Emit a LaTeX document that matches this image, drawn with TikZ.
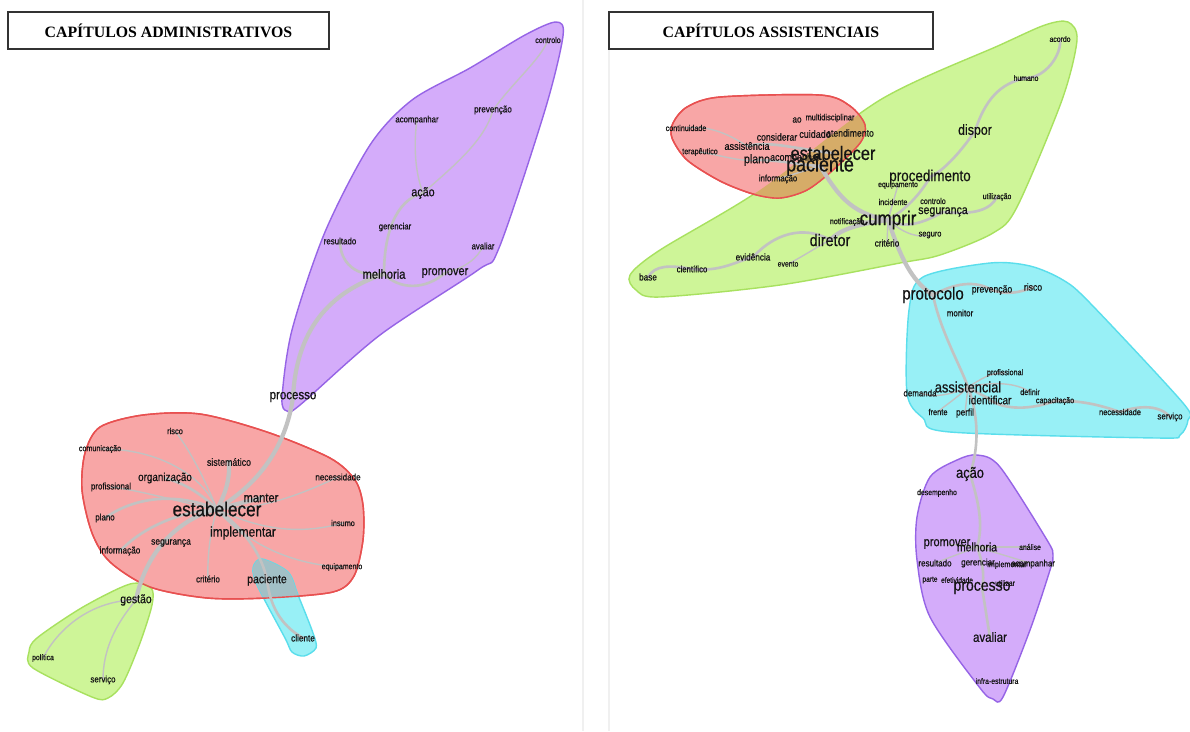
\documentclass[tikz,border=0pt]{standalone}
\usepackage{fontspec}
\setmainfont{Liberation Serif}
\newfontfamily\wf{Liberation Sans}[FakeStretch=0.85, FakeBold=0.6]

\definecolor{purpF}{RGB}{212,172,250}
\definecolor{purpD}{RGB}{150,100,230}
\definecolor{redF}{RGB}{248,166,166}
\definecolor{redD}{RGB}{232,80,80}
\definecolor{grnF}{RGB}{206,245,152}
\definecolor{grnD}{RGB}{168,225,95}
\definecolor{cyaF}{RGB}{152,240,246}
\definecolor{cyaD}{RGB}{90,222,236}
\definecolor{mixRG}{RGB}{214,172,104}
\definecolor{mixRC}{RGB}{162,192,198}
\definecolor{linkgray}{RGB}{194,194,194}

\pgfdeclarelayer{hulls}
\pgfdeclarelayer{links}
\pgfsetlayers{hulls,links,main}

\tikzset{
  wd/.style={inner sep=0pt, text=black!92, font=\wf\fontsize{#1pt}{#1pt}\selectfont},
  lk/.style={draw=linkgray, line width=2.4pt, line cap=round},
  lkm/.style={draw=linkgray, line width=1.5pt, line cap=round},
  lkt/.style={draw=linkgray, line width=0.8pt, line cap=round},
  hullborder/.style={line width=0.8pt},
  titlebox/.style={draw=black!80, line width=1.2pt, inner sep=0pt,
    minimum height=0.74cm, font=\bfseries\fontsize{9}{9}\selectfont}
}

\begin{document}
\begin{tikzpicture}[x=0.02cm, y=-0.02cm]
\useasboundingbox (0,0) rectangle (1190,731);

% ---------- titles ----------
\node[titlebox, minimum width=6.42cm] (tAdm) at (168.5,30.5) {CAPÍTULOS ADMINISTRATIVOS};
\node[titlebox, minimum width=6.48cm] (tAss) at (771,30.5) {CAPÍTULOS ASSISTENCIAIS};

% ---------- administrative chapters: words ----------
% purple cluster
\node[wd=4.8] (lCont)  at (548,40)  {controlo};
\node[wd=5.4] (lPrev)  at (493,110) {prevenção};
\node[wd=5.2] (lAcomp) at (417,120) {acompanhar};
\node[wd=7.2] (lAcao)  at (423,193) {ação};
\node[wd=5.2] (lGer)   at (395,227) {gerenciar};
\node[wd=5.3] (lRes)   at (340,241) {resultado};
\node[wd=5.2] (lAval)  at (483,246) {avaliar};
\node[wd=7.5] (lMel)   at (384,274) {melhoria};
\node[wd=7.4] (lProm)  at (445,273) {promover};
\node[wd=7.7] (lProc)  at (293,397) {processo};
% red cluster
\node[wd=5.0] (lRisco) at (175,431) {risco};
\node[wd=4.8] (lCom)   at (100,449) {comunicação};
\node[wd=5.9] (lSist)  at (229,462) {sistemático};
\node[wd=6.6] (lOrg)   at (165,478) {organização};
\node[wd=5.3] (lProf)  at (111,487) {profissional};
\node[wd=5.4] (lNec)   at (338,477) {necessidade};
\node[wd=7.5] (lMant)  at (261,498) {manter};
\node[wd=11.5] (lEst)  at (217,509) {estabelecer};
\node[wd=5.3] (lPlano) at (105,518) {plano};
\node[wd=4.9] (lIns)   at (343,523) {insumo};
\node[wd=8.0] (lImpl)  at (243,533) {implementar};
\node[wd=5.7] (lSeg)   at (171,543) {segurança};
\node[wd=5.5] (lInfo)  at (120,551) {informação};
\node[wd=4.7] (lEquip) at (342,567) {equipamento};
\node[wd=5.3] (lCrit)  at (208,579) {critério};
\node[wd=7.0] (lPac)   at (267,580) {paciente};
\node[wd=5.5] (lCli)   at (303,638) {cliente};
% green cluster
\node[wd=7.0] (lGest)  at (136,600) {gestão};
\node[wd=4.6] (lPol)   at (43,658)  {política};
\node[wd=5.3] (lServ)  at (103,680) {serviço};

% ---------- care chapters: words ----------
% red cluster
\node[wd=4.8] (rCont)  at (686,128) {continuidade};
\node[wd=4.8] (rTer)   at (700,152) {terapêutico};
\node[wd=6.1] (rAssist) at (747,146) {assistência};
\node[wd=5.5] (rAo)    at (797,120) {ao};
\node[wd=5.0] (rMulti) at (830,118) {multidisciplinar};
\node[wd=5.8] (rCons)  at (777,137) {considerar};
\node[wd=6.0] (rCuid)  at (815,134) {cuidado};
\node[wd=5.8] (rAtend) at (850,133) {atendimento};
\node[wd=6.0] (rAcomp) at (795,158) {acompanhar};
\node[wd=7.1] (rPlano) at (757,160) {plano};
\node[wd=11.0] (rEst)  at (833,153) {estabelecer};
\node[wd=12.0] (rPac)  at (820,166) {paciente};
\node[wd=5.2] (rInfo)  at (778,179) {informação};
% green cluster
\node[wd=9.0] (rProced) at (930,177) {procedimento};
\node[wd=4.6] (rEquip) at (898,185) {equipamento};
\node[wd=4.8] (rInc)   at (893,202) {incidente};
\node[wd=4.8] (rContr) at (933,201) {controlo};
\node[wd=7.1] (rSeg)   at (943,212) {segurança};
\node[wd=4.6] (rUtil)  at (997,197) {utilização};
\node[wd=8.3] (rDisp)  at (975,131) {dispor};
\node[wd=4.6] (rHum)   at (1026,78) {humano};
\node[wd=4.6] (rAcordo) at (1060,39) {acordo};
\node[wd=4.8] (rNotif) at (847,222) {notificação};
\node[wd=11.4] (rCump) at (888,220) {cumprir};
\node[wd=9.6] (rDir)   at (830,240) {diretor};
\node[wd=5.5] (rCrit)  at (887,243) {critério};
\node[wd=5.0] (rSeguro) at (930,235) {seguro};
\node[wd=5.5] (rEvid)  at (753,257) {evidência};
\node[wd=4.6] (rEvento) at (788,264) {evento};
\node[wd=5.2] (rCient) at (692,269) {científico};
\node[wd=5.5] (rBase)  at (648,277) {base};
% cyan cluster
\node[wd=10.0] (rProt) at (933,295) {protocolo};
\node[wd=5.8] (rPrev)  at (992,290) {prevenção};
\node[wd=5.8] (rRisco) at (1033,287) {risco};
\node[wd=5.3] (rMon)   at (960,313) {monitor};
\node[wd=4.8] (rProf)  at (1005,373) {profissional};
\node[wd=5.3] (rDem)   at (920,393) {demanda};
\node[wd=8.6] (rAssistl) at (968,387) {assistencial};
\node[wd=6.7] (rIdent) at (990,400) {identificar};
\node[wd=4.8] (rDef)   at (1030,392) {definir};
\node[wd=4.8] (rCap)   at (1055,401) {capacitação};
\node[wd=5.0] (rFrente) at (938,412) {frente};
\node[wd=5.5] (rPerf)  at (965,413) {perfil};
\node[wd=5.0] (rNec)   at (1120,412) {necessidade};
\node[wd=5.3] (rServ)  at (1170,417) {serviço};
% purple cluster
\node[wd=8.6] (rAcao)  at (970,474) {ação};
\node[wd=4.6] (rDes)   at (937,493) {desempenho};
\node[wd=4.6] (rAnal)  at (1030,547) {análise};
\node[wd=5.4] (rRes)   at (935,563) {resultado};
\node[wd=5.4] (rGer)   at (978,563) {gerenciar};
\node[wd=4.8] (rImpl)  at (1007,565) {implementar};
\node[wd=5.3] (rAcompP) at (1033,564) {acompanhar};
\node[wd=7.4] (rProm)  at (947,544) {promover};
\node[wd=7.0] (rMel)   at (977,547) {melhoria};
\node[wd=4.4] (rParte) at (930,580) {parte};
\node[wd=4.4] (rEfet)  at (957,580) {efetividade};
\node[wd=4.6] (rUtilz) at (1005,583) {utilizar};
\node[wd=9.4] (rProc)  at (982,588) {processo};
\node[wd=7.7] (rAval)  at (990,637) {avaliar};
\node[wd=4.6] (rInfra) at (997,681) {infra-estrutura};

% ---------- cluster hulls ----------
\begin{pgfonlayer}{hulls}
\fill[white] (0,0) rectangle (1190,731);
\draw[black!6, line width=0.6pt] (583,0) -- (583,731);
\draw[black!6, line width=0.6pt] (609,49) -- (609,731);
% administrative: purple
\filldraw[fill=purpF, draw=purpD, hullborder] plot[smooth cycle, tension=0.5] coordinates {
  (556,22) (563,36) (545,110) (499,248) (478,270) (380,335) (300,405) (287,411)
  (282,398) (292,330) (325,232) (370,145) (412,100) (470,68) (525,35)};
% administrative: red
\filldraw[fill=redF, draw=redD, hullborder] plot[smooth cycle, tension=0.5] coordinates {
  (85,453) (100,427) (143,415) (200,414) (267,432) (330,458) (355,480) (363,505)
  (363,540) (354,576) (333,592) (267,598) (207,598) (150,587) (110,562) (92,533) (82,490)};
% administrative: green
\filldraw[fill=grnF, draw=grnD, hullborder] plot[smooth cycle, tension=0.5] coordinates {
  (130,584) (151,588) (152,605) (140,643) (123,683) (108,698) (92,697) (33,668)
  (29,652) (37,638) (83,607)};
% administrative: cyan, with the part shared with red
\filldraw[fill=cyaF, draw=cyaD, hullborder] plot[smooth cycle, tension=0.5] coordinates {
  (262,559) (288,572) (298,595) (313,633) (316,648) (304,656) (292,652) (285,638)
  (258,587) (253,568)};
\begin{scope}
  \clip plot[smooth cycle, tension=0.5] coordinates {
  (85,453) (100,427) (143,415) (200,414) (267,432) (330,458) (355,480) (363,505)
  (363,540) (354,576) (333,592) (267,598) (207,598) (150,587) (110,562) (92,533) (82,490)};
  \fill[mixRC] plot[smooth cycle, tension=0.5] coordinates {
  (262,559) (288,572) (298,595) (313,633) (316,648) (304,656) (292,652) (285,638)
  (258,587) (253,568)};
\end{scope}
\draw[redD, hullborder] plot[smooth cycle, tension=0.5] coordinates {
  (85,453) (100,427) (143,415) (200,414) (267,432) (330,458) (355,480) (363,505)
  (363,540) (354,576) (333,592) (267,598) (207,598) (150,587) (110,562) (92,533) (82,490)};

% care: green
\filldraw[fill=grnF, draw=grnD, hullborder] plot[smooth cycle, tension=0.5] coordinates {
  (1068,22) (1077,40) (1062,100) (1017,207) (993,233) (940,255) (900,263) (780,285)
  (660,297) (636,290) (630,275) (660,250) (760,190) (880,100) (1000,45) (1045,25)};
% care: red, with the part shared with green
\filldraw[fill=redF, draw=redD, hullborder] plot[smooth cycle, tension=0.5] coordinates {
  (673,123) (687,107) (720,97) (820,95) (850,106) (865,125) (860,143) (833,170)
  (807,190) (780,198) (753,194) (720,181) (687,160) (672,138)};
\begin{scope}
  \clip plot[smooth cycle, tension=0.5] coordinates {
  (673,123) (687,107) (720,97) (820,95) (850,106) (865,125) (860,143) (833,170)
  (807,190) (780,198) (753,194) (720,181) (687,160) (672,138)};
  \fill[mixRG] plot[smooth cycle, tension=0.5] coordinates {
  (1068,22) (1077,40) (1062,100) (1017,207) (993,233) (940,255) (900,263) (780,285)
  (660,297) (636,290) (630,275) (660,250) (760,190) (880,100) (1000,45) (1045,25)};
\end{scope}
\draw[redD, hullborder] plot[smooth cycle, tension=0.5] coordinates {
  (673,123) (687,107) (720,97) (820,95) (850,106) (865,125) (860,143) (833,170)
  (807,190) (780,198) (753,194) (720,181) (687,160) (672,138)};
% care: cyan
\filldraw[fill=cyaF, draw=cyaD, hullborder] plot[smooth cycle, tension=0.5] coordinates {
  (923,277) (990,263) (1030,266) (1063,280) (1090,303) (1183,403) (1188,420)
  (1180,435) (1157,438) (950,432) (923,418) (907,393) (909,310)};
% care: purple
\filldraw[fill=purpF, draw=purpD, hullborder] plot[smooth cycle, tension=0.5] coordinates {
  (957,460) (977,455) (1000,467) (1047,540) (1053,555) (1050,570) (1030,630)
  (1003,697) (993,699) (980,688) (930,617) (917,560) (917,517) (930,477)};
\end{pgfonlayer}

% ---------- links ----------
\begin{pgfonlayer}{links}
% administrative
\draw[lk]  (lProc.center) .. controls (296,340) and (320,295) .. (lMel.center);
\draw[lkm] (lMel.center) .. controls (355,278) and (340,262) .. (lRes.center);
\draw[lkm] (lMel.center) .. controls (384,235) and (395,200) .. (lAcao.center);
\draw[lkm] (lMel.center) .. controls (400,290) and (425,290) .. (lProm.center);
\draw[lkt] (lProm.center) .. controls (465,268) and (478,258) .. (lAval.center);
\draw[lkt] (lAcao.center) .. controls (414,170) and (414,140) .. (lAcomp.center);
\draw[lkt] (lAcao.center) .. controls (455,165) and (485,140) .. (lPrev.center);
\draw[lkt] (lPrev.center) .. controls (515,80) and (540,60) .. (lCont.center);
\draw[lk]  (lProc.center) .. controls (287,440) and (265,480) .. (lEst.center);
\draw[lk]  (lSist.center) .. controls (230,480) and (225,495) .. (lEst.center);
\draw[lkt] (lRisco.center) .. controls (190,450) and (205,480) .. (lEst.center);
\draw[lkt] (lCom.center) .. controls (150,448) and (200,470) .. (lEst.center);
\draw[lkm] (lOrg.center) .. controls (190,485) and (205,498) .. (lEst.center);
\draw[lkt] (lProf.center) .. controls (140,490) and (190,505) .. (lEst.center);
\draw[lkm] (lPlano.center) .. controls (130,500) and (170,490) .. (lEst.center);
\draw[lkm] (lInfo.center) .. controls (140,530) and (175,512) .. (lEst.center);
\draw[lk]  (lEst.center) .. controls (175,520) and (145,555) .. (lGest.center);
\draw[lkt] (lCrit.center) .. controls (207,550) and (212,525) .. (lEst.center);
\draw[lk]  (lEst.center) -- (lImpl.center);
\draw[lk]  (lEst.center) -- (lMant.center);
\draw[lkt] (lNec.center) .. controls (300,495) and (260,510) .. (lEst.center);
\draw[lkt] (lIns.center) .. controls (300,535) and (260,530) .. (lEst.center);
\draw[lkt] (lEquip.center) .. controls (300,565) and (265,550) .. (lImpl.center);
\draw[lkm] (lEst.center) .. controls (245,530) and (262,555) .. (lPac.center);
\draw[lkm] (lPac.center) .. controls (270,605) and (280,625) .. (lCli.center);
\draw[lkt] (lGest.center) .. controls (95,600) and (60,625) .. (lPol.center);
\draw[lkt] (lGest.center) .. controls (115,625) and (103,650) .. (lServ.center);
% care
\draw[lkt] (rCont.center) .. controls (710,125) and (730,135) .. (rAssist.center);
\draw[lkt] (rTer.center) .. controls (720,155) and (740,162) .. (rPlano.center);
\draw[lkm] (rAssist.center) .. controls (770,140) and (800,150) .. (rEst.center);
\draw[lkm] (rPlano.center) .. controls (780,160) and (800,165) .. (rPac.center);
\draw[lkt] (rInfo.center) -- (rPac.center);
\draw[lk]  (rPac.center) .. controls (838,195) and (850,213) .. (rCump.center);
\draw[lk]  (rCump.center) .. controls (850,225) and (838,232) .. (rDir.center);
\draw[lkm] (rDir.center) .. controls (810,228) and (780,228) .. (rEvid.center);
\draw[lkm] (rEvid.center) .. controls (735,262) and (720,272) .. (rCient.center);
\draw[lkm] (rCient.center) .. controls (670,265) and (655,265) .. (rBase.center);
\draw[lkt] (rEvento.center) .. controls (800,258) and (812,250) .. (rDir.center);
\draw[lkm] (rCump.center) .. controls (905,210) and (920,195) .. (rProced.center);
\draw[lkm] (rProced.center) .. controls (945,170) and (962,150) .. (rDisp.center);
\draw[lkm] (rDisp.center) .. controls (985,100) and (1000,83) .. (rHum.center);
\draw[lkm] (rHum.center) .. controls (1045,78) and (1062,55) .. (rAcordo.center);
\draw[lkm] (rCump.center) .. controls (905,230) and (925,222) .. (rSeg.center);
\draw[lkm] (rSeg.center) .. controls (975,215) and (990,210) .. (rUtil.center);
\draw[lkt] (rCump.center) .. controls (905,235) and (920,238) .. (rSeguro.center);
\draw[lkt] (rCump.center) -- (rInc.center);
\draw[lkt] (rCump.center) -- (rEquip.center);
\draw[lkt] (rCump.center) -- (rNotif.center);
\draw[lkt] (rCump.center) -- (rCrit.center);
\draw[lk]  (rCump.center) .. controls (900,255) and (910,280) .. (rProt.center);
\draw[lkm] (rProt.center) .. controls (955,283) and (975,280) .. (rPrev.center);
\draw[lkm] (rPrev.center) .. controls (1005,295) and (1020,293) .. (rRisco.center);
\draw[lkm] (rProt.center) .. controls (940,330) and (960,365) .. (rAssistl.center);
\draw[lkm] (rAssistl.center) .. controls (980,420) and (978,450) .. (rAcao.center);
\draw[lkt] (rAssistl.center) .. controls (980,380) and (990,372) .. (rProf.center);
\draw[lkt] (rAssistl.center) .. controls (950,395) and (935,398) .. (rDem.center);
\draw[lkm] (rAssistl.center) .. controls (980,395) and (990,398) .. (rIdent.center);
\draw[lkm] (rIdent.center) .. controls (1005,410) and (1030,410) .. (rCap.center);
\draw[lkm] (rCap.center) .. controls (1080,400) and (1100,405) .. (rNec.center);
\draw[lkm] (rNec.center) .. controls (1140,405) and (1160,405) .. (rServ.center);
\draw[lkt] (rAssistl.center) .. controls (955,400) and (945,405) .. (rFrente.center);
\draw[lkt] (rAssistl.center) -- (rPerf.center);
\draw[lkt] (rAssistl.center) .. controls (1000,380) and (1020,385) .. (rDef.center);
\draw[lkm] (rAcao.center) .. controls (978,500) and (984,525) .. (rMel.center);
\draw[lkm] (rMel.center) .. controls (982,560) and (985,575) .. (rProc.center);
\draw[lkm] (rProc.center) .. controls (985,605) and (987,620) .. (rAval.center);
\draw[lkt] (rMel.center) -- (rProm.center);
\draw[lkt] (rMel.center) -- (rRes.center);
\draw[lkt] (rMel.center) -- (rAcompP.center);
\draw[lkt] (rMel.center) -- (rAnal.center);
\end{pgfonlayer}
\end{tikzpicture}
\end{document}
